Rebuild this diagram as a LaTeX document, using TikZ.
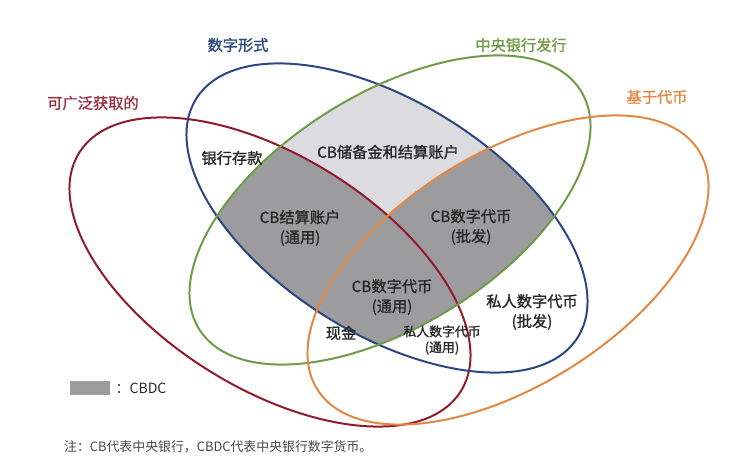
\documentclass[tikz,border=0pt]{standalone}
\usepackage{fontspec}
\setmainfont{Noto Sans CJK SC}
\newfontfamily\labelfont[FakeBold=1.2]{Noto Sans CJK SC}
\usetikzlibrary{positioning}

\definecolor{ringred}{RGB}{145,26,46}
\definecolor{ringblue}{RGB}{45,70,128}
\definecolor{ringgreen}{RGB}{112,155,72}
\definecolor{ringorange}{RGB}{226,136,66}
\definecolor{cbdcgray}{RGB}{156,156,158}
\definecolor{reservegray}{RGB}{219,219,224}
\definecolor{labeltext}{RGB}{40,40,40}

% one ring of the flower: centre x, centre y, tilt
\newcommand{\ring}[3]{[rotate around={#3:(#1,#2)}] (#1,#2) ellipse [x radius=225, y radius=116]}

\begin{document}
\begin{tikzpicture}[x=0.03cm, y=0.03cm,
          ringline/.style={line width=1.7pt},
          region/.style={font=\labelfont\fontsize{13}{17}\selectfont, align=center, text=labeltext},
          smallregion/.style={font=\labelfont\fontsize{11}{13.5}\selectfont, align=center, text=labeltext},
          ringtitle/.style={font=\labelfont\fontsize{13}{16}\selectfont}]

        \fill [white] (0,0) rectangle (755,476);
        \useasboundingbox (0,0) rectangle (755,476);

        % shaded parts: digital and central bank issued
        \begin{scope}
          \clip \ring{387}{258}{-32};
          \fill [reservegray] \ring{390}{266}{32};
          \clip \ring{390}{266}{32};
          \fill [cbdcgray] \ring{270}{204}{-32};
          \fill [cbdcgray] \ring{508}{206}{32};
        \end{scope}

        % the four rings
        \draw [ringline, ringred] \ring{270}{204}{-32};
        \draw [ringline, ringblue] \ring{387}{258}{-32};
        \draw [ringline, ringgreen] \ring{390}{266}{32};
        \draw [ringline, ringorange] \ring{508}{206}{32};

        \node [ringtitle, text=ringred!90] (access) at (93,373) {可广泛获取的};
        \node [ringtitle, text=ringblue] (digital) at (238,431) {数字形式};
        \node [ringtitle, text=ringgreen] (cbissued) at (521,431) {中央银行发行};
        \node [ringtitle, text=ringorange] (token) at (657,379) {基于代币};

        \node [region] (deposit) at (232,318) {银行存款};
        \node [region] (reserve) at (388,324) {CB储备金和结算账户};
        \node [region] (cbaccount) at (300,248) {CB结算账户\\(通用)};
        \node [region] (cbwholesale) at (471,249) {CB数字代币\\(批发)};
        \node [region] (cbgeneral) at (392,179) {CB数字代币\\(通用)};
        \node [region] (cash) at (341,143) {现金};
        \node [smallregion] (privgeneral) at (442,136) {私人数字代币\\(通用)};
        \node [region] (privwholesale) at (532,164) {私人数字代币\\(批发)};

        \node [fill=cbdcgray, minimum width=40*0.03cm, minimum height=14*0.03cm, inner sep=0pt] (legendbox) at (90,88) {};
        \node [font=\fontsize{12}{14}\selectfont, text=labeltext, right=1pt of legendbox] (legendtext) {：CBDC};

        \node [font=\fontsize{11}{13}\selectfont, text=labeltext!85, anchor=west] (note) at (60,29) {注：CB代表中央银行，CBDC代表中央银行数字货币。};
      \end{tikzpicture}
\end{document}
